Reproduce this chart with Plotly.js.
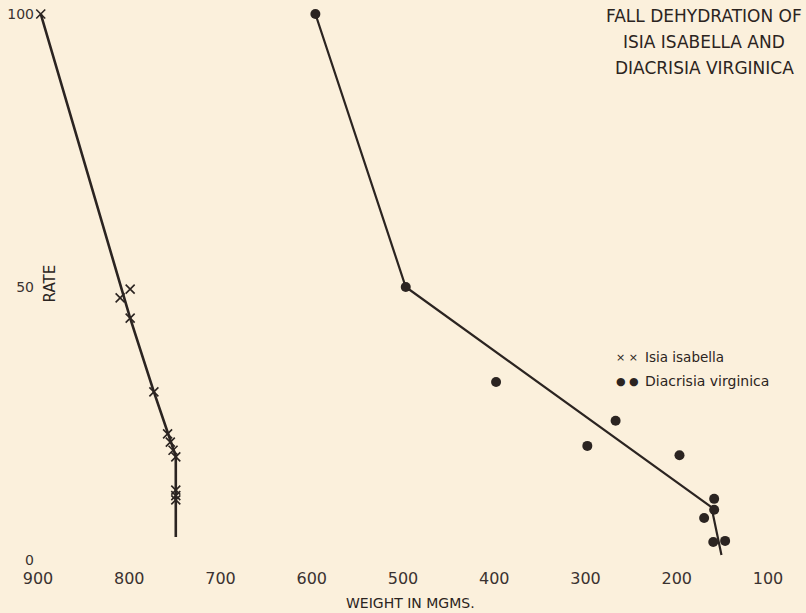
<!DOCTYPE html>
<html>
<head>
<meta charset="utf-8">
<script src="https://cdn.plot.ly/plotly-3.0.1.min.js"></script>
<style>
html,body{margin:0;padding:0;background:#fbf0dc;}
#chart{width:806px;height:613px;}
</style>
</head>
<body>
<div id="chart"></div>
<script>
// Isia isabella observations (weight in mgms, rate)
const isiaWeight = [897, 810, 799, 799, 773, 758, 755, 752, 749, 749, 749, 749];
const isiaRate   = [100, 48.0, 49.6, 44.3, 30.8, 23.1, 21.6, 20.1, 18.9, 12.8, 11.8, 11.0];
// Isia isabella fitted line
const isiaLineWeight = [897, 799, 773, 749, 749];
const isiaLineRate   = [100, 44.3, 30.8, 19.0, 4.2];

// Diacrisia virginica observations
const diacWeight = [596, 497, 398, 267, 298, 197, 159, 159, 170, 160, 147];
const diacRate   = [100, 50, 32.6, 25.5, 20.9, 19.2, 11.2, 9.2, 7.7, 3.3, 3.5];
// Diacrisia virginica fitted line
const diacLineWeight = [596, 497, 162, 151];
const diacLineRate   = [100, 50, 9.7, 0.9];

const xTicks = [900, 800, 700, 600, 500, 400, 300, 200, 100];
const yTicks = [0, 50, 100];
const titleLines = ['FALL DEHYDRATION OF', 'ISIA ISABELLA AND', 'DIACRISIA VIRGINICA'];

const ink = '#2b2421';
const font = 'DejaVu Sans, Liberation Sans, sans-serif';

const traces = [
  {x: isiaLineWeight, y: isiaLineRate, mode: 'lines', line: {color: ink, width: 2.6}, showlegend: false, hoverinfo: 'skip'},
  {x: diacLineWeight, y: diacLineRate, mode: 'lines', line: {color: ink, width: 2.2}, showlegend: false, hoverinfo: 'skip'},
  {x: isiaWeight, y: isiaRate, mode: 'markers', name: 'Isia isabella',
   marker: {symbol: 'x-thin-open', size: 9, color: ink, line: {color: ink, width: 1.6}}, showlegend: false, cliponaxis: false},
  {x: diacWeight, y: diacRate, mode: 'markers', name: 'Diacrisia virginica',
   marker: {symbol: 'circle', size: 10, color: ink}, showlegend: false, cliponaxis: false}
];

const L = 37.6, R = 38.4, T = 14, B = 53;
const W = 806 - L - R, H = 613 - T - B;
const px = v => (v - L) / W;
const py = v => (613 - B - v) / H;

const titleY = [16, 42, 68];
const titleAnn = titleLines.map((t, i) => ({
  xref: 'paper', yref: 'paper', x: px(704), y: py(titleY[i]), xanchor: 'center', yanchor: 'middle',
  text: t, showarrow: false, font: {size: 17, color: ink, family: font}
}));

const layout = {
  width: 806, height: 613,
  paper_bgcolor: '#fbf0dc', plot_bgcolor: '#fbf0dc',
  margin: {l: L, r: R, t: T, b: B},
  showlegend: false,
  font: {family: font, color: ink},
  xaxis: {range: [900, 100], tickvals: xTicks, ticktext: xTicks.map(String),
    showgrid: false, zeroline: false, showline: false, ticks: '',
    tickfont: {size: 16, color: '#3a3230'}, ticklabelstandoff: 7, fixedrange: true},
  yaxis: {range: [0, 100], tickvals: yTicks, ticktext: yTicks.map(String),
    showgrid: false, zeroline: false, showline: false, ticks: '',
    tickfont: {size: 14, color: '#3a3230'}, ticklabelstandoff: 3, fixedrange: true},
  annotations: titleAnn.concat([
    {xref: 'paper', yref: 'paper', x: px(50), y: py(283), xanchor: 'center', yanchor: 'middle',
     text: 'RATE', textangle: -90, showarrow: false, font: {size: 15, color: ink, family: font}},
    {xref: 'paper', yref: 'paper', x: px(410), y: py(603), xanchor: 'center', yanchor: 'middle',
     text: 'WEIGHT IN MGMS.', showarrow: false, font: {size: 14, color: ink, family: font}},
    {xref: 'paper', yref: 'paper', x: px(614), y: py(357), xanchor: 'left', yanchor: 'middle',
     text: '× ×', showarrow: false, font: {size: 11, color: ink, family: font}},
    {xref: 'paper', yref: 'paper', x: px(643), y: py(357), xanchor: 'left', yanchor: 'middle',
     text: 'Isia isabella', showarrow: false, font: {size: 13.5, color: ink, family: font}},
    {xref: 'paper', yref: 'paper', x: px(614), y: py(381), xanchor: 'left', yanchor: 'middle',
     text: '● ●', showarrow: false, font: {size: 11, color: ink, family: font}},
    {xref: 'paper', yref: 'paper', x: px(643), y: py(381), xanchor: 'left', yanchor: 'middle',
     text: 'Diacrisia virginica', showarrow: false, font: {size: 14, color: ink, family: font}}
  ])
};

Plotly.newPlot('chart', traces, layout, {displayModeBar: false, staticPlot: true});
</script>
</body>
</html>
